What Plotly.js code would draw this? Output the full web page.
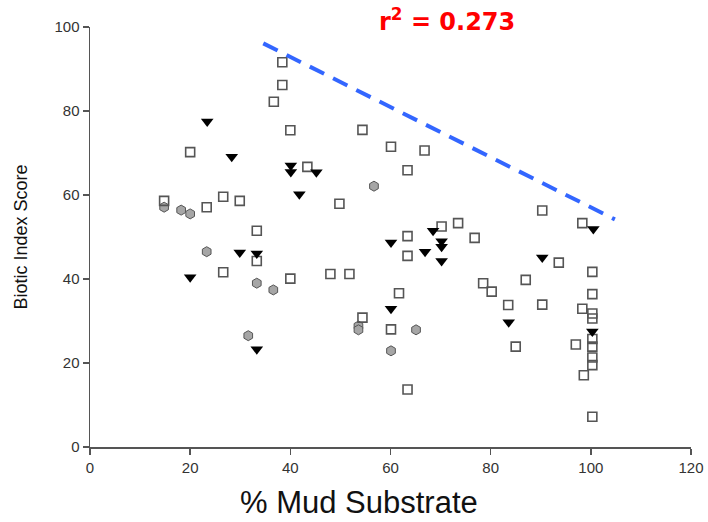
<!DOCTYPE html>
<html>
<head>
<meta charset="utf-8">
<script src="https://cdn.plot.ly/plotly-3.0.1.min.js"></script>
<style>html,body{margin:0;padding:0;background:#fff;}#chart{width:708px;height:522px;}</style>
</head>
<body>
<div id="chart"></div>
<script>
// Open squares
var squareX = [38.4,38.4,36.7,40.0,20.0,43.4,14.8,23.3,26.6,29.9,49.8,33.3,33.3,26.6,40.0,48.0,51.8,54.4,60.1,66.8,63.4,70.2,73.5,76.8,63.4,63.4,61.7,78.5,80.2,83.5,85.0,54.4,60.1,63.4,90.3,98.3,93.6,100.3,87.0,100.3,90.3,98.3,100.3,100.3,100.3,100.3,97.0,100.3,100.3,98.6,100.3];
var squareY = [91.6,86.2,82.2,75.4,70.2,66.7,58.6,57.1,59.6,58.6,57.9,51.5,44.3,41.6,40.1,41.2,41.2,75.5,71.5,70.6,65.9,52.5,53.3,49.8,50.2,45.5,36.6,39.0,37.0,33.8,23.9,30.8,28.0,13.7,56.3,53.3,43.9,41.7,39.8,36.4,33.9,32.9,31.8,30.6,25.7,23.9,24.4,21.3,19.5,17.1,7.2];
// Filled triangles
var triX = [23.4,28.3,40.1,40.1,45.2,41.8,29.9,33.3,20.0,33.3,68.5,60.1,70.2,70.2,66.9,70.2,60.1,83.6,100.5,90.3,100.3];
var triY = [77.5,69.1,67.0,65.5,65.4,60.2,46.3,46.1,40.4,23.3,51.5,48.7,49.0,47.7,46.5,44.3,32.9,29.7,51.9,45.1,27.5];
// Grey hexagons
var hexX = [14.8,18.2,20.0,23.3,33.3,36.6,31.6,56.7,53.6,53.6,65.1,60.1];
var hexY = [57.1,56.4,55.5,46.5,39.0,37.4,26.5,62.1,28.8,27.9,27.9,22.9];
// Upper trend line
var lineX = [34.6,104.8];
var lineY = [96.1,54.2];

var traces = [
  {x: hexX, y: hexY, mode: 'markers', type: 'scatter',
   marker: {symbol: 'hexagon', size: 10, color: '#a6a6a6', line: {color: '#555', width: 1}}},
  {x: squareX, y: squareY, mode: 'markers', type: 'scatter',
   marker: {symbol: 'square-open', size: 9, color: '#555', line: {color: '#555', width: 1.6}}},
  {x: triX, y: triY, mode: 'markers', type: 'scatter',
   marker: {symbol: 'triangle-down', size: 11, color: '#000', line: {width: 0}}},
  {x: lineX, y: lineY, mode: 'lines', type: 'scatter',
   line: {color: '#3366ff', width: 4, dash: '16px,10px'}}
];

var layout = {
  width: 708, height: 522,
  margin: {l: 90, r: 17, t: 27, b: 75},
  showlegend: false,
  paper_bgcolor: '#fff', plot_bgcolor: '#fff',
  font: {family: 'Liberation Sans, Arial, sans-serif', color: '#333'},
  xaxis: {
    range: [0, 120], dtick: 20, showgrid: false, zeroline: false,
    showline: true, linecolor: '#555', linewidth: 1.5,
    ticks: 'outside', ticklen: 6, tickcolor: '#555', tickwidth: 1.5,
    tickfont: {size: 15, color: '#333'}
  },
  yaxis: {
    range: [0, 100], dtick: 20, showgrid: false, zeroline: false,
    showline: true, linecolor: '#555', linewidth: 1.5,
    ticks: 'outside', ticklen: 6, tickcolor: '#555', tickwidth: 1.5,
    tickfont: {size: 15, color: '#333'},
    title: {text: 'Biotic Index Score', font: {size: 18, color: '#111'}, standoff: 22}
  },
  annotations: [{
    xref: 'paper', yref: 'paper', x: 0.594, y: 1.017, xanchor: 'center', yanchor: 'middle',
    text: 'r<sup>2</sup> = 0.273', showarrow: false,
    font: {size: 24, color: '#ff0000', family: 'DejaVu Sans, Verdana, sans-serif', weight: 'bold'}
  }, {
    xref: 'paper', yref: 'paper', x: 0.448, y: -0.133, xanchor: 'center', yanchor: 'middle',
    text: '% Mud Substrate', showarrow: false,
    font: {size: 31, color: '#111', family: 'Liberation Sans, Arial, sans-serif'}
  }]
};

Plotly.newPlot('chart', traces, layout, {displayModeBar: false, staticPlot: true});
</script>
</body>
</html>
